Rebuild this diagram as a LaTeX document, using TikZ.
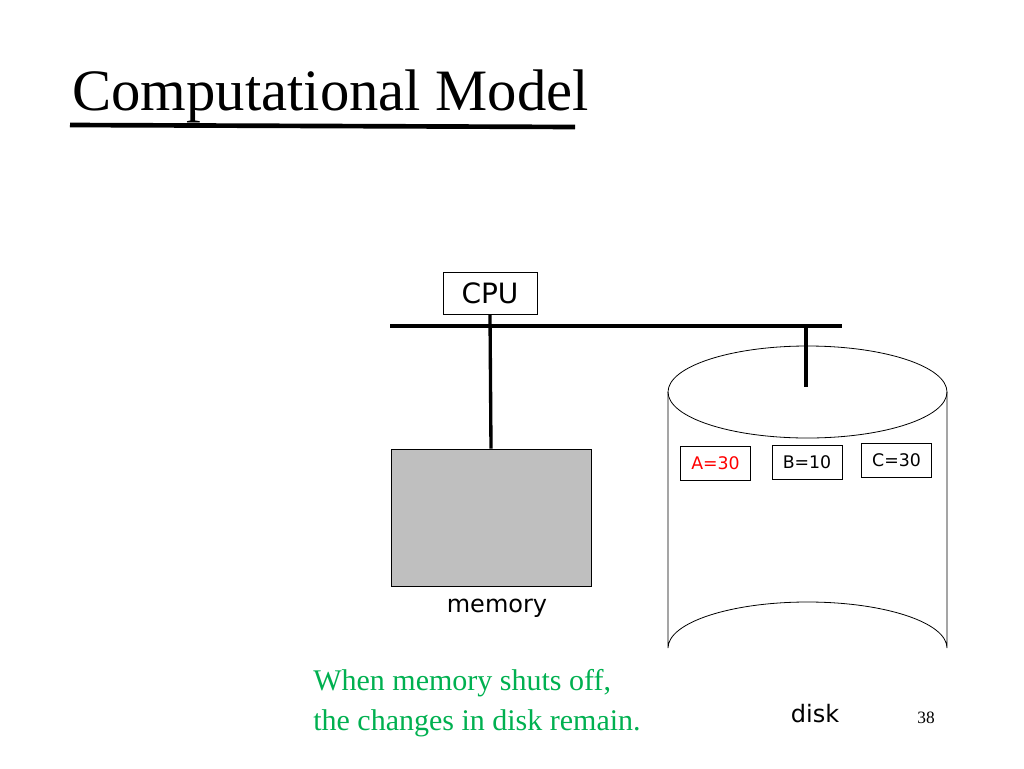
\documentclass[tikz,border=0pt]{standalone}
\usepackage{fontspec}
\setmainfont{Liberation Serif}
\newfontfamily\sansf{DejaVu Sans}
\definecolor{memgray}{HTML}{BFBFBF}
\definecolor{notegreen}{HTML}{00B050}
\begin{document}
\begin{tikzpicture}[x=0.75pt,y=-0.75pt,
  box/.style={draw=black,line width=0.6pt,inner sep=0pt,minimum width=70*0.75pt,minimum height=34*0.75pt,font=\sansf\fontsize{13}{15}\selectfont},
  lbl/.style={font=\sansf\fontsize{18}{20}\selectfont,inner sep=0pt}]
\useasboundingbox (0,0) rectangle (1024,768);
\node[anchor=base west,inner sep=0pt,font=\fontsize{44}{48}\selectfont] (title) at (72,110) {Computational Model};
\draw[line width=3.5pt] (70,125) coordinate (u1) -- (575,127) coordinate (u2);
\node[draw,line width=0.6pt,minimum width=94*0.75pt,minimum height=42*0.75pt,inner sep=0pt,font=\sansf\fontsize{21}{24}\selectfont] (cpu) at (490,293) {CPU};
\coordinate (b1) at (390,326); \coordinate (b2) at (842,326);
\draw[line width=2.5pt] (b1) -- (b2);
\node[draw,fill=memgray,line width=0.6pt,minimum width=200*0.75pt,minimum height=137*0.75pt,inner sep=0pt] (mem) at (491,517.5) {};
\draw[line width=2.5pt] (cpu.south) -- (mem.north);
\node[lbl] (memlbl) at (497,608) {memory};
% disk cylinder
\draw[line width=0.6pt] (668,392) -- (668,648) arc[start angle=180,end angle=360,x radius=139.5,y radius=46] -- (947,392);
\draw[line width=0.6pt] (807.5,392) ellipse[x radius=139.5,y radius=46];
\coordinate (dtop) at (806,326); \coordinate (dend) at (806,387);
\draw[line width=2.5pt] (dtop) -- (dend);
\node[box,text=red] (a) at (715.5,463) {A=30};
\node[box] (b) at (807,462.5) {B=10};
\node[box] (c) at (896.5,460.5) {C=30};
\node[lbl] (disk) at (815,714) {disk};
\node[anchor=base west,inner sep=0pt,text=notegreen,font=\fontsize{22.5}{30}\selectfont,align=left] (note) at (313,690) {When memory shuts off,};
\node[anchor=base west,inner sep=0pt,text=notegreen,font=\fontsize{22.5}{30}\selectfont] (note2) at (313,730) {the changes in disk remain.};
\node[inner sep=0pt,font=\fontsize{13}{15}\selectfont] (pg) at (926,718) {38};
\end{tikzpicture}
\end{document}
